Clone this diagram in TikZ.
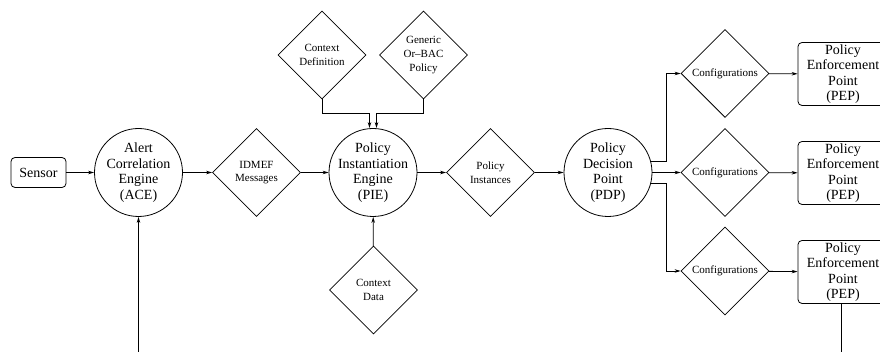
\documentclass[tikz,border=0pt]{standalone}
\usepackage{fontspec}
\setmainfont{Liberation Serif}
\usetikzlibrary{shapes.geometric,arrows.meta}

\begin{document}
\begin{tikzpicture}[x=1pt,y=1pt,line width=0.8pt,
    >={Stealth[length=6pt,width=3.5pt]},
    engine/.style={draw,circle,minimum size=88pt,inner sep=-6pt,align=center,font=\fontsize{14}{15.5}\selectfont},
    store/.style={draw,diamond,aspect=1,minimum size=88pt,inner sep=0pt,align=center,font=\fontsize{11}{13.8}\selectfont},
    unit/.style={draw,rounded corners=4pt,inner sep=0pt,align=center,font=\fontsize{14}{15.5}\selectfont}]
        \useasboundingbox (0,0) rectangle (880,352);

        % main row
        \node[unit,minimum width=55pt,minimum height=30pt] (sensor) at (38.5,179.5) {Sensor};
        \node[engine] (ace) at (138.5,179.5) {Alert\\Correlation\\Engine\\(ACE)};
        \node[store] (idmef) at (256.5,179.5) {IDMEF\\Messages};
        \node[engine] (pie) at (373,179.5) {Policy\\Instantiation\\Engine\\(PIE)};
        \node[store] (inst) at (490.5,179.5) {Policy\\Instances};
        \node[engine] (pdp) at (608,179.5) {Policy\\Decision\\Point\\(PDP)};

        % inputs of the PIE
        \node[store] (ctxdef) at (322,297) {Context\\Definition};
        \node[store] (orbac) at (423.5,297) {Generic\\Or--BAC\\Policy};
        \node[store] (ctxdata) at (373.5,62) {Context\\Data};

        % enforcement side
        \node[store] (conf1) at (725,278.5) {Configurations};
        \node[store] (conf2) at (725,179.5) {Configurations};
        \node[store] (conf3) at (725,81) {Configurations};
        \node[unit,minimum width=90pt,minimum height=63pt] (pep1) at (843,278) {Policy\\Enforcement\\Point\\(PEP)};
        \node[unit,minimum width=90pt,minimum height=63pt] (pep2) at (843,179) {Policy\\Enforcement\\Point\\(PEP)};
        \node[unit,minimum width=90pt,minimum height=63pt] (pep3) at (843,80) {Policy\\Enforcement\\Point\\(PEP)};

        \coordinate (split) at (666,179.5);
        \coordinate (back) at (138.5,-20);

        \draw[->] (sensor) -- (ace);
        \draw[->] (ace) -- (idmef);
        \draw[->] (idmef) -- (pie);
        \draw[->] (pie) -- (inst);
        \draw[->] (inst) -- (pdp);

        \draw[->] (ctxdef.south) |- ([xshift=-3.5pt,yshift=15pt]pie.north) -- ([xshift=-3.5pt]pie.north);
        \draw[->] (orbac.south) |- ([xshift=3.5pt,yshift=15pt]pie.north) -- ([xshift=3.5pt]pie.north);
        \draw[->] (ctxdata) -- (pie);

        \draw[->] (pdp.14) -- (pdp.14 -| split) |- (conf1.west);
        \draw[->] (pdp) -- (conf2);
        \draw[->] (pdp.-14) -- (pdp.-14 -| split) |- (conf3.west);

        \draw[->] (conf1) -- (pep1);
        \draw[->] (conf2) -- (pep2);
        \draw[->] (conf3) -- (pep3);

        % feedback, leaves the visible part
        \draw[->] ([xshift=-1.3pt]pep3.south) |- (back) -- (ace.south);
\end{tikzpicture}
\end{document}
